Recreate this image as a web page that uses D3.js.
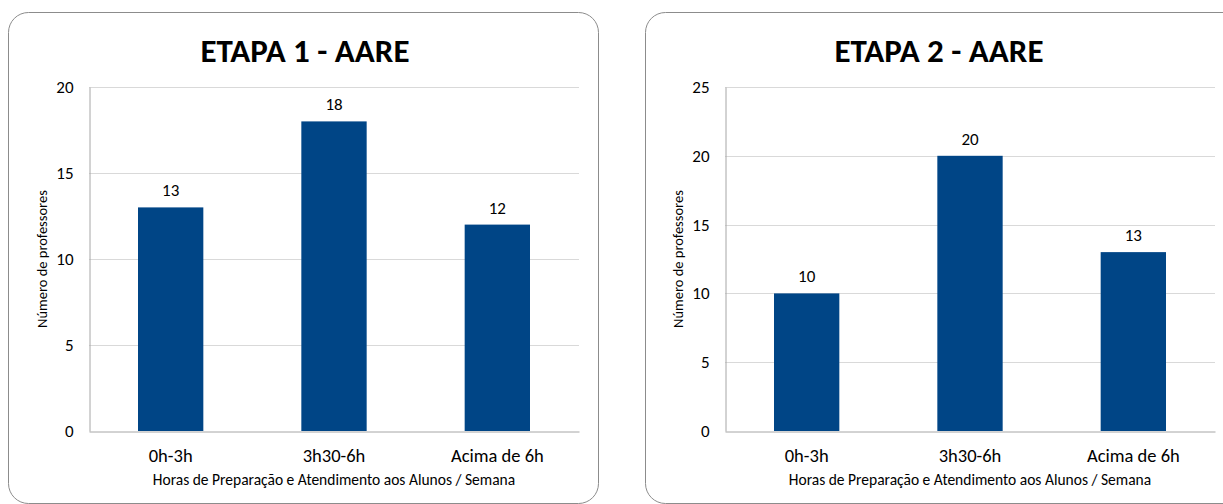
<!DOCTYPE html>
<html>
<head>
<meta charset="utf-8">
<script src="https://cdn.jsdelivr.net/npm/d3@7"></script>
<style>
  body { margin: 0; background: #fff; }
  svg text { font-family: Carlito, Calibri, Lato, "Open Sans", sans-serif; }
</style>
</head>
<body>
<div id="charts"></div>
<script>
var categories = ["0h-3h", "3h30-6h", "Acima de 6h"];
var etapa1 = [13, 18, 12];
var etapa2 = [10, 20, 13];
var ticks1 = [0, 5, 10, 15, 20];
var ticks2 = [0, 5, 10, 15, 20, 25];

var W = 1223, H = 504;
var svg = d3.select("#charts").append("svg")
    .attr("width", W)
    .attr("height", H);

var panels = [
    {title: "ETAPA 1 - AARE", values: etapa1, ticks: ticks1, max: 20,
     box: {x: 8.5, y: 12.5, w: 590, h: 491}, plot: {x0: 89, x1: 579, y0: 87, y1: 431}, ytitleX: 42, titleX: 305},
    {title: "ETAPA 2 - AARE", values: etapa2, ticks: ticks2, max: 25,
     box: {x: 645.5, y: 12.5, w: 600, h: 491}, plot: {x0: 725, x1: 1215, y0: 87, y1: 431}, ytitleX: 678, titleX: 939}
];

panels.forEach(function (p) {
    var g = svg.append("g");

    g.append("rect")
        .attr("x", p.box.x)
        .attr("y", p.box.y)
        .attr("width", p.box.w)
        .attr("height", p.box.h)
        .attr("rx", 20)
        .attr("fill", "#fff")
        .attr("stroke", "#8c8c8c")
        .attr("stroke-width", 1);

    g.append("text")
        .attr("x", p.titleX)
        .attr("y", 62)
        .attr("text-anchor", "middle")
        .attr("font-size", 33)
        .attr("font-weight", "bold")
        .attr("fill", "#000")
        .text(p.title);

    var x = d3.scaleBand()
        .domain(categories)
        .range([p.plot.x0, p.plot.x1])
        .paddingInner(0.6)
        .paddingOuter(0.3);
    var y = d3.scaleLinear()
        .domain([0, p.max])
        .range([p.plot.y1, p.plot.y0]);

    // gridlines
    g.selectAll(".grid")
        .data(p.ticks.filter(function (t) { return t > 0; }))
        .enter().append("line")
        .attr("x1", p.plot.x0)
        .attr("x2", p.plot.x1)
        .attr("y1", function (d) { return Math.round(y(d)) + 0.5; })
        .attr("y2", function (d) { return Math.round(y(d)) + 0.5; })
        .attr("stroke", "#d9d9d9")
        .attr("stroke-width", 1);

    // y axis
    var yAxis = g.append("g")
        .attr("transform", "translate(" + (p.plot.x0 + 0.5) + ",0)")
        .call(d3.axisLeft(y).tickValues(p.ticks).tickSize(0).tickPadding(16));
    yAxis.select(".domain").attr("stroke", "#a6a6a6");
    yAxis.selectAll("text")
        .attr("font-size", 17)
        .attr("fill", "#000");

    // x axis
    var xAxis = g.append("g")
        .attr("transform", "translate(0," + (p.plot.y1 + 0.5) + ")")
        .call(d3.axisBottom(x).tickSize(0).tickPadding(17));
    xAxis.select(".domain").attr("stroke", "#a6a6a6");
    xAxis.selectAll("text")
        .attr("font-size", 18.5)
        .attr("fill", "#000");

    // bars
    g.selectAll(".bar")
        .data(p.values)
        .enter().append("rect")
        .attr("x", function (d, i) { return x(categories[i]); })
        .attr("y", function (d) { return y(d); })
        .attr("width", x.bandwidth())
        .attr("height", function (d) { return y(0) - y(d); })
        .attr("fill", "#004586");

    // value labels
    g.selectAll(".lbl")
        .data(p.values)
        .enter().append("text")
        .attr("x", function (d, i) { return x(categories[i]) + x.bandwidth() / 2; })
        .attr("y", function (d) { return y(d) - 11; })
        .attr("text-anchor", "middle")
        .attr("font-size", 17)
        .attr("fill", "#000")
        .text(function (d) { return d; });

    // axis titles
    g.append("text")
        .attr("x", (p.plot.x0 + p.plot.x1) / 2)
        .attr("y", 485)
        .attr("text-anchor", "middle")
        .attr("font-size", 15.5)
        .attr("fill", "#000")
        .text("Horas de Preparação e Atendimento aos Alunos / Semana");

    g.append("text")
        .attr("transform", "translate(" + p.ytitleX + "," + ((p.plot.y0 + p.plot.y1) / 2) + ") rotate(-90)")
        .attr("text-anchor", "middle")
        .attr("dy", "0.35em")
        .attr("font-size", 14.5)
        .attr("fill", "#000")
        .text("Número de professores");
});
</script>
</body>
</html>
